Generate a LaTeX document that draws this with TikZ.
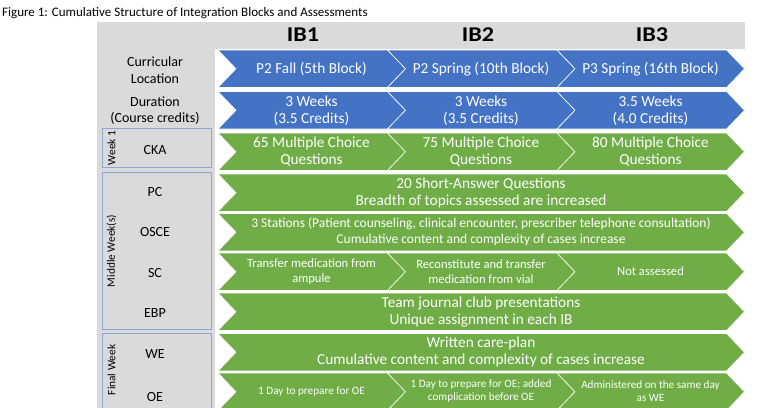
\documentclass[tikz,border=0pt]{standalone}
\usepackage{fontspec}
\setmainfont{Carlito}
\definecolor{ibblue}{HTML}{4472C4}
\definecolor{ibgreen}{HTML}{70AD47}
\definecolor{panelgray}{HTML}{DADADA}
\definecolor{boxedge}{HTML}{8FA6D2}
\newcommand\mychev[5]{\fill[#5,draw=white,line width=0.6pt] (#1,#3) -- (#2,#3) -- ({#2+18},{#3+#4/2}) -- (#2,{#3+#4}) -- (#1,{#3+#4}) -- ({#1+18},{#3+#4/2}) -- cycle;}
\begin{document}
\begin{tikzpicture}[x=1pt,y=-1pt,
  lbl/.style={align=center,inner sep=0pt,font=\fontsize{14}{16.5}\selectfont},
  vlab/.style={rotate=90,inner sep=0pt,font=\fontsize{11.3}{13}\selectfont},
  hdr/.style={inner sep=0pt,xscale=1.15,font=\fontsize{21}{23}\selectfont\bfseries},
  atxt/.style={align=center,inner sep=0pt,text=white,font=\fontsize{15.3}{17}\selectfont},
  mtxt/.style={align=center,inner sep=0pt,text=white,font=\fontsize{13.5}{16}\selectfont},
  stxt/.style={align=center,inner sep=0pt,text=white,font=\fontsize{12.6}{15}\selectfont},
  ttxt/.style={align=center,inner sep=0pt,text=white,font=\fontsize{11.2}{13.5}\selectfont},
  lbox/.style={draw=boxedge,line width=0.9pt}]
\clip (0,0) rectangle (760,407);
\fill[white] (0,0) rectangle (760,407);
\node[anchor=west,inner sep=0pt,font=\fontsize{13}{15}\selectfont] (title) at (2,13) {Figure 1: Cumulative Structure of Integration Blocks and Assessments};
% backgrounds
\fill[panelgray] (97,22) rectangle (745,412);
\fill[white] (215,48.5) rectangle (745,412);
% header
\node[hdr] (ib1) at (303,35) {IB1};
\node[hdr] (ib2) at (478,35) {IB2};
\node[hdr] (ib3) at (652,35) {IB3};
% left boxes
\draw[lbox] (102,128) rectangle (211,167);
\draw[lbox] (102,172) rectangle (211,329);
\draw[lbox] (102,333) rectangle (211,420);
\node[vlab] (wk1) at (111.5,148) {Week 1};
\node[vlab] (mid) at (111.5,251) {Middle Week(s)};
\node[vlab] (fin) at (111.5,370) {Final Week};
% row labels
\node[lbl] (lcur) at (155,70) {Curricular\\Location};
\node[lbl] (ldur) at (155,110.5) {Duration\\(Course credits)};
\node[lbl] (lcka) at (155,150) {CKA};
\node[lbl] (lpc) at (155,192) {PC};
\node[lbl] (losce) at (155,232) {OSCE};
\node[lbl] (lsc) at (155,273) {SC};
\node[lbl] (lebp) at (155,313) {EBP};
\node[lbl] (lwe) at (155,354) {WE};
\node[lbl] (loe) at (155,397) {OE};
% row 0: curricular location
\mychev{218}{387.5}{50}{37.5}{ibblue}
\mychev{387.5}{557}{50}{37.5}{ibblue}
\mychev{557}{726.5}{50}{37.5}{ibblue}
\node[atxt] (c1) at (311.5,69) {P2 Fall (5th Block)};
\node[atxt] (c2) at (481,69) {P2 Spring (10th Block)};
\node[atxt] (c3) at (650.5,69) {P3 Spring (16th Block)};
% row 1: duration
\mychev{218}{387.5}{91.5}{37.5}{ibblue}
\mychev{387.5}{557}{91.5}{37.5}{ibblue}
\mychev{557}{726.5}{91.5}{37.5}{ibblue}
\node[atxt] (d1) at (311.5,110.5) {3 Weeks\\(3.5 Credits)};
\node[atxt] (d2) at (481,110.5) {3 Weeks\\(3.5 Credits)};
\node[atxt] (d3) at (650.5,110.5) {3.5 Weeks\\(4.0 Credits)};
% row 2: CKA
\mychev{218}{387.5}{133}{37.5}{ibgreen}
\mychev{387.5}{557}{133}{37.5}{ibgreen}
\mychev{557}{726.5}{133}{37.5}{ibgreen}
\node[atxt] (k1) at (311.5,151.5) {65 Multiple Choice\\Questions};
\node[atxt] (k2) at (481,151.5) {75 Multiple Choice\\Questions};
\node[atxt] (k3) at (650.5,151.5) {80 Multiple Choice\\Questions};
% row 3: PC
\mychev{218}{726.5}{174}{37.5}{ibgreen}
\node[atxt] (pc) at (481,193) {20 Short-Answer Questions\\Breadth of topics assessed are increased};
% row 4: OSCE
\mychev{218}{726.5}{213.5}{37.5}{ibgreen}
\node[mtxt] (osce) at (481,232) {3 Stations (Patient counseling, clinical encounter, prescriber telephone consultation)\\Cumulative content and complexity of cases increase};
% row 5: SC
\mychev{218}{387.5}{253}{37.5}{ibgreen}
\mychev{387.5}{557}{253}{37.5}{ibgreen}
\mychev{557}{726.5}{253}{37.5}{ibgreen}
\node[stxt] (s1) at (311.5,271.5) {Transfer medication from\\ampule};
\node[stxt] (s2) at (481,271.5) {Reconstitute and transfer\\medication from vial};
\node[stxt] (s3) at (650.5,271.5) {Not assessed};
% row 6: EBP
\mychev{218}{726.5}{293}{37.5}{ibgreen}
\node[atxt] (ebp) at (481,311.5) {Team journal club presentations\\Unique assignment in each IB};
% row 7: WE
\mychev{218}{726.5}{333.5}{37.5}{ibgreen}
\node[atxt] (we) at (481,352) {Written care-plan\\Cumulative content and complexity of cases increase};
% row 8: OE
\mychev{218}{387.5}{373}{37.5}{ibgreen}
\mychev{387.5}{557}{373}{37.5}{ibgreen}
\mychev{557}{726.5}{373}{37.5}{ibgreen}
\node[ttxt] (o1) at (311.5,391.5) {1 Day to prepare for OE};
\node[ttxt] (o2) at (481,391) {1 Day to prepare for OE; added\\complication before OE};
\node[ttxt] (o3) at (650.5,391) {Administered on the same day\\as WE};
\end{tikzpicture}
\end{document}
